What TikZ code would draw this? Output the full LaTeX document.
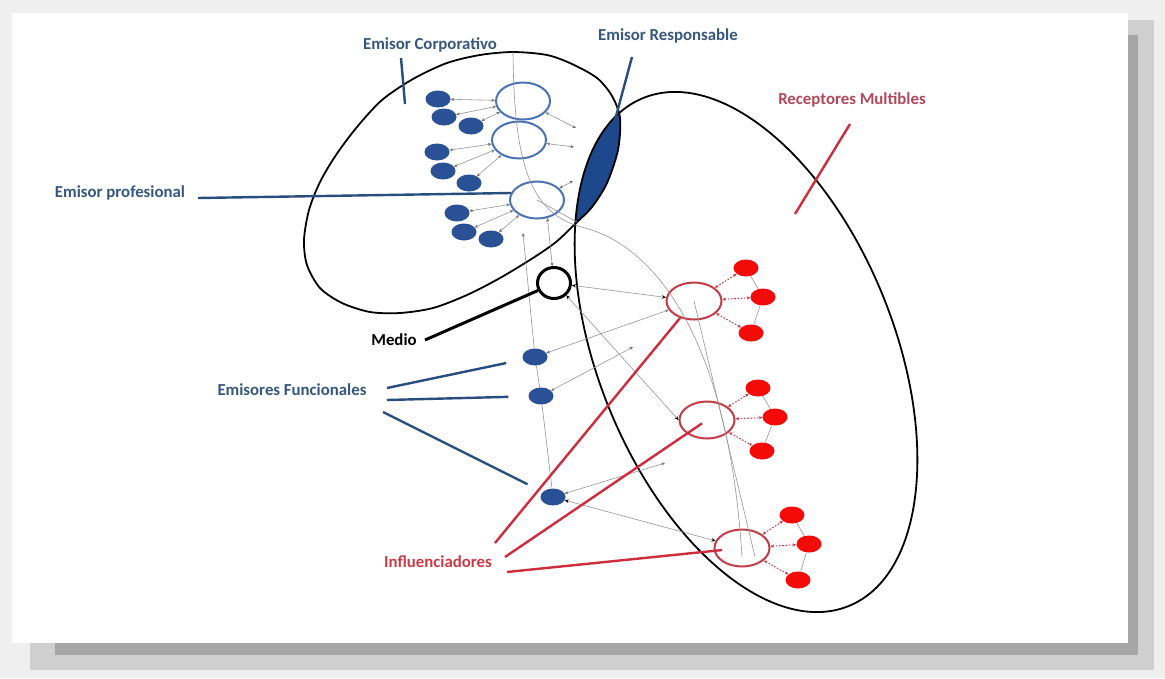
\documentclass[tikz,border=0pt]{standalone}
\usepackage{fontspec}
\setmainfont{Carlito}
\usetikzlibrary{shapes.geometric,arrows.meta}
\definecolor{bgc}{RGB}{239,239,239}
\definecolor{shA}{RGB}{207,207,207}
\definecolor{shB}{RGB}{166,166,166}
\definecolor{txtblue}{RGB}{55,88,125}
\definecolor{lineblue}{RGB}{40,78,125}
\definecolor{dotblue}{RGB}{42,80,150}
\definecolor{circblue}{RGB}{75,115,180}
\definecolor{lensblue}{RGB}{30,72,140}
\definecolor{txtred}{RGB}{178,72,92}
\definecolor{txtredb}{RGB}{200,60,72}
\definecolor{linered}{RGB}{205,45,60}
\definecolor{circred}{RGB}{195,60,70}
\definecolor{dotred}{RGB}{245,10,10}
\definecolor{graylink}{RGB}{150,150,150}
\tikzset{
  tg/.tip={Stealth[length=3.6pt,width=3.2pt,color=black!55]},
  tk/.tip={Stealth[length=4pt,width=3.5pt,color=black]},
  tr/.tip={Stealth[length=3.6pt,width=3.2pt,color=circred]},
}
\begin{document}
\begin{tikzpicture}[x=1pt,y=-1pt,
  lbl/.style={font=\bfseries\fontsize{16.8}{19}\selectfont, inner sep=0pt},
  gl/.style={draw=graylink, line width=0.6pt},
  ga/.style={gl, tg-tg},
  gad/.style={gl, tk-tk},
  ra/.style={draw=circred, line width=1pt, dash pattern=on 1.6pt off 1.6pt, tr-tr},
  bline/.style={draw=lineblue, line width=2.4pt},
  rline/.style={draw=linered, line width=2.4pt},
  bdot/.style={ellipse, fill=dotblue, minimum width=25pt, minimum height=17pt, inner sep=0pt},
  rdot/.style={ellipse, fill=dotred, minimum width=25pt, minimum height=17pt, inner sep=0pt},
  bcirc/.style={ellipse, draw=circblue, line width=2pt, minimum width=54pt, minimum height=37pt, inner sep=0pt},
  rcirc/.style={ellipse, draw=circred, line width=2pt, minimum width=55pt, minimum height=37pt, inner sep=0pt},
  mediostyle/.style={ellipse, draw=black, line width=3pt, minimum width=33pt, minimum height=31pt, inner sep=0pt},
  bigshape/.style={draw=black, line width=1.8pt},
]
\useasboundingbox (0,0) rectangle (1165,678);
% frame and shadow
\fill[bgc] (0,0) rectangle (1165,678);
\fill[shA] (30,20) rectangle (1154,670);
\fill[shB] (55,35) rectangle (1138,655);
\fill[white] (12,13) rectangle (1128,643);

% lens (overlap of the two ellipses)
\begin{scope}
  \clip plot[smooth cycle] coordinates {(513,52) (547,55) (572,64) (597,78) (612,96) (620,118) (618,150) (607,183) (592,207) (575,224) (556,242) (533,258) (500,278) (467,295) (433,308) (400,313) (370,312) (342,303) (320,288) (307,265) (304,240) (309,210) (320,182) (336,155) (357,127) (382,100) (413,79) (447,63) (480,55)};
  \fill[lensblue, rotate around={22:(746,352)}] (746,352) ellipse [x radius=148, y radius=274];
\end{scope}
% the two big ellipses
\draw[bigshape] plot[smooth cycle] coordinates {(513,52) (547,55) (572,64) (597,78) (612,96) (620,118) (618,150) (607,183) (592,207) (575,224) (556,242) (533,258) (500,278) (467,295) (433,308) (400,313) (370,312) (342,303) (320,288) (307,265) (304,240) (309,210) (320,182) (336,155) (357,127) (382,100) (413,79) (447,63) (480,55)};
\draw[bigshape, rotate around={22:(746,352)}] (746,352) ellipse [x radius=148, y radius=274];

% blue emitters
\node[bcirc] (c1) at (523,101) {};
\node[bcirc] (c2) at (519,140) {};
\node[bcirc] (c3) at (537,200) {};
\node[bdot] (d1) at (438,99) {};
\node[bdot] (d2) at (444,117) {};
\node[bdot] (d3) at (471,126) {};
\node[bdot] (d4) at (437,152) {};
\node[bdot] (d5) at (443,171) {};
\node[bdot] (d6) at (469,183) {};
\node[bdot] (d7) at (457,213) {};
\node[bdot] (d8) at (464,232) {};
\node[bdot] (d9) at (491,239) {};
\node[mediostyle] (medio) at (554,283) {};
\node[bdot] (f1) at (535,357) {};
\node[bdot] (f2) at (541,396) {};
\node[bdot] (f3) at (553,497) {};

% red receivers
\node[rcirc] (r1) at (694,301) {};
\node[rcirc] (r2) at (707,420) {};
\node[rcirc] (r3) at (742,548) {};
\node[rdot] (r1a) at (746,268) {};
\node[rdot] (r1b) at (763,297) {};
\node[rdot] (r1c) at (751,333) {};
\node[rdot] (r2a) at (758,388) {};
\node[rdot] (r2b) at (775,417) {};
\node[rdot] (r2c) at (762,451) {};
\node[rdot] (r3a) at (792,515) {};
\node[rdot] (r3b) at (809,544) {};
\node[rdot] (r3c) at (798,580) {};

% helper coordinates
\coordinate (gtop) at (513,52);
\coordinate (gmid) at (585,228);
\coordinate (gend1) at (742,557);
\coordinate (gend2) at (755,557);
\coordinate (lensb) at (577,222);
\coordinate (gv) at (523,233);
\coordinate (l1) at (576,128);
\coordinate (l2) at (574,147);
\coordinate (l3) at (573,181);
\coordinate (f2t) at (633,347);
\coordinate (f3t) at (665,463);

% gray network
\draw[gl] (gtop) .. controls (514,165) and (530,215) .. (gmid) .. controls (650,245) and (728,330) .. (gend1);
\draw[gl] (r1.center) -- (gend2);
\draw[gl] (c3.center) -- (lensb);
\draw[gl, tg-] (gv) -- (f1);
\draw[gl] (f1) -- (f2);
\draw[gl] (f2) -- (f3);
\draw[ga] (c3.-60) -- (medio);
\draw[gad] (medio) -- (r1);
\draw[gad] (medio.-45) -- (r2.west);
\draw[ga] (r1) -- (f1);
\draw[ga] (f2) -- (f2t);
\draw[ga] (f3) -- (f3t);
\draw[gad] (f3) -- (r3);

% left group arrows
\foreach \d/\c in {d1/c1,d2/c1,d3/c1,d4/c2,d5/c2,d6/c2,d7/c3,d8/c3,d9/c3}
  \draw[ga] (\d) -- (\c);
\draw[ga] (c1) -- (l1);
\draw[ga] (c2) -- (l2);
\draw[ga] (c3) -- (l3);

% red group arrows
\foreach \r in {r1,r2,r3}{
  \draw[ra] (\r) -- (\r a);
  \draw[ra] (\r) -- (\r b);
  \draw[ra] (\r) -- (\r c);
  \draw[gl] (\r a) -- (\r b) -- (\r c);
}

% labels
\node[lbl, text=txtblue] (tcorp) at (430,45) {Emisor Corporativo};
\node[lbl, text=txtblue] (tresp) at (668,36) {Emisor Responsable};
\node[lbl, text=txtred] (trec) at (852,100) {Receptores Multibles};
\node[lbl, text=txtblue] (tprof) at (120,193) {Emisor profesional};
\node[lbl, text=black] (tmedio) at (394,340) {Medio};
\node[lbl, text=txtblue] (tfunc) at (292,390) {Emisores Funcionales};
\node[lbl, text=txtredb] (tinfl) at (438,562) {Influenciadores};

% label lines
\coordinate (a1) at (401,58);   \coordinate (a2) at (405,104);
\coordinate (b1) at (632,57);   \coordinate (b2) at (615,120);
\coordinate (e1) at (850,124);  \coordinate (e2) at (795,214);
\coordinate (p1) at (198,198);
\coordinate (m1) at (425,340);
\coordinate (u1) at (387,388);  \coordinate (u2) at (387,400);  \coordinate (u3) at (383,412);
\coordinate (i1) at (495,543);  \coordinate (i2) at (505,557);  \coordinate (i3) at (507,572);
\draw[bline] (a1) -- (a2);
\draw[bline] (b1) -- (b2);
\draw[rline] (e1) -- (e2);
\draw[bline] (p1) -- (c3.165);
\draw[draw=black, line width=3pt] (m1) -- (medio.205);
\draw[bline, shorten >=17pt] (u1) -- (f1);
\draw[bline, shorten >=20pt] (u2) -- (f2);
\draw[bline, shorten >=17pt] (u3) -- (f3);
\draw[rline] (i1) -- (r1);
\draw[rline, shorten >=6pt] (i2) -- (r2.center);
\draw[rline, shorten >=20pt] (i3) -- (r3.center);
\end{tikzpicture}
\end{document}
